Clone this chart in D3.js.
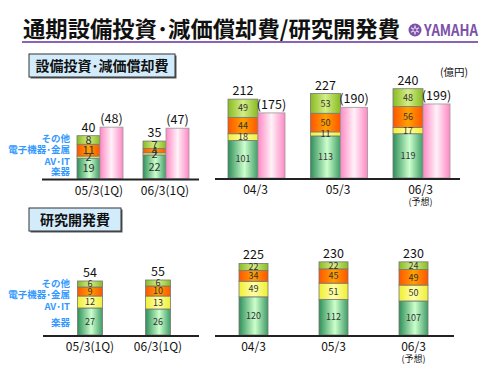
<!DOCTYPE html>
<html>
<head>
<meta charset="utf-8">
<script src="https://cdn.jsdelivr.net/npm/d3@7"></script>
<style>
  body { margin: 0; background: #fff; }
  text { font-family: "Noto Sans CJK JP", "Noto Sans", sans-serif; }
</style>
</head>
<body>
<script>
const width = 500, height = 375;

// segment order, bottom to top
const segments = ["楽器", "AV･IT", "電子機器･金属", "その他"];

// 設備投資 / 減価償却費
const capexQ = ["05/3(1Q)", "06/3(1Q)"];
const capexQVals = [[19, 2, 11, 8], [22, 2, 4, 7]];
const capexQTotal = [40, 35];
const deprQ = [48, 47];

const capexY = ["04/3", "05/3", "06/3"];
const capexYVals = [[101, 18, 44, 49], [113, 11, 50, 53], [119, 17, 56, 48]];
const capexYTotal = [212, 227, 240];
const deprY = [175, 190, 199];

// 研究開発費
const rdQ = ["05/3(1Q)", "06/3(1Q)"];
const rdQVals = [[27, 12, 9, 6], [26, 13, 10, 6]];
const rdQTotal = [54, 55];

const rdY = ["04/3", "05/3", "06/3"];
const rdYVals = [[120, 49, 34, 22], [112, 51, 45, 22], [107, 50, 49, 24]];
const rdYTotal = [225, 230, 230];

const svg = d3.select("body").append("svg")
  .attr("width", width)
  .attr("height", height);

// gradients
const defs = svg.append("defs");
function grad(id, stops) {
  const lg = defs.append("linearGradient").attr("id", id)
    .attr("x1", "0%").attr("x2", "100%").attr("y1", "0%").attr("y2", "0%");
  stops.forEach(s => lg.append("stop").attr("offset", s[0]).attr("stop-color", s[1]));
}
grad("g0", [["0%", "#2f8f5a"], ["55%", "#ccffcc"], ["100%", "#3f9c66"]]);
grad("g1", [["0%", "#eeee33"], ["50%", "#ffffaa"], ["100%", "#eeee33"]]);
grad("g2", [["0%", "#ff5500"], ["50%", "#ffa000"], ["100%", "#ff5500"]]);
grad("g3", [["0%", "#88bb22"], ["50%", "#d4ee88"], ["100%", "#88bb22"]]);
grad("gp", [["0%", "#ff88c4"], ["50%", "#fff2f8"], ["100%", "#ff88c4"]]);
const fills = ["url(#g0)", "url(#g1)", "url(#g2)", "url(#g3)"];

// title
svg.append("text")
  .attr("x", 23).attr("y", 37)
  .attr("font-size", 22).attr("font-weight", "bold")
  .attr("fill", "#111")
  .attr("textLength", 377).attr("lengthAdjust", "spacingAndGlyphs")
  .text("通期設備投資･減価償却費/研究開発費");
svg.append("line")
  .attr("x1", 22).attr("x2", 478).attr("y1", 42).attr("y2", 42)
  .attr("stroke", "#8a63b5").attr("stroke-width", 2);

// yamaha logo
const logo = svg.append("g").attr("transform", "translate(415,30)");
logo.append("circle").attr("r", 6.5).attr("fill", "#7b52a8");
d3.range(3).forEach(i => {
  logo.append("line")
    .attr("x1", 0).attr("y1", -4.5).attr("x2", 0).attr("y2", 4.5)
    .attr("transform", "rotate(" + (i * 60) + ")")
    .attr("stroke", "#e8dcf4").attr("stroke-width", 1.4);
});
logo.append("circle").attr("r", 2).attr("fill", "#7b52a8").attr("stroke", "#e8dcf4").attr("stroke-width", 0.8);
svg.append("text")
  .attr("x", 424).attr("y", 36)
  .attr("font-family", "Liberation Sans Narrow, Arial Narrow, sans-serif")
  .attr("font-size", 16).attr("font-weight", "bold")
  .attr("fill", "#7b52a8")
  .attr("textLength", 54).attr("lengthAdjust", "spacingAndGlyphs")
  .text("YAMAHA");

// section boxes
function sectionBox(x, y, w, h, label) {
  svg.append("rect").attr("x", x + 1.5).attr("y", y + 1.5).attr("width", w).attr("height", h)
    .attr("fill", "#555");
  svg.append("rect").attr("x", x).attr("y", y).attr("width", w).attr("height", h)
    .attr("fill", "#d2ecfb").attr("stroke", "#333").attr("stroke-width", 1);
  svg.append("text").attr("x", x + w / 2).attr("y", y + h / 2 + 5)
    .attr("text-anchor", "middle").attr("font-size", 14).attr("font-weight", "bold")
    .attr("fill", "#111").text(label);
}
sectionBox(29, 54, 146, 23, "設備投資･減価償却費");
sectionBox(29, 208, 92, 23, "研究開発費");

svg.append("text").attr("x", 454).attr("y", 76)
  .attr("text-anchor", "middle").attr("font-size", 10.5).attr("fill", "#111")
  .text("(億円)");

// a panel of stacked bars with optional pink bars next to them
function panel(opt) {
  const x = d3.scalePoint().domain(opt.cats).range(opt.xRange);
  const y = d3.scaleLinear().domain(opt.yDomain).range(opt.yRange);
  const g = svg.append("g");

  opt.cats.forEach((c, i) => {
    const cx = x(c);
    const bx = opt.pink ? cx - opt.bw : cx - opt.bw / 2;
    const stack = d3.stack().keys(d3.range(4))([opt.vals[i]])
      .map(s => s[0]);
    stack.forEach((s, k) => {
      g.append("rect")
        .attr("x", bx).attr("width", opt.bw)
        .attr("y", y(s[1])).attr("height", y(s[0]) - y(s[1]))
        .attr("fill", fills[k]).attr("stroke", "#777").attr("stroke-width", 0.8);
    });
    stack.forEach((s, k) => {
      g.append("text")
        .attr("x", bx + opt.bw / 2).attr("y", (y(s[0]) + y(s[1])) / 2 + opt.segFont * 0.36)
        .attr("text-anchor", "middle").attr("font-size", opt.segFont)
        .attr("font-family", "Liberation Sans, Arial, sans-serif")
        .attr("fill", "#333").text(opt.vals[i][k]);
    });
    g.append("text")
      .attr("x", bx + opt.bw / 2).attr("y", y(opt.totals[i]) - 4)
      .attr("text-anchor", "middle").attr("font-size", 12.5)
      .attr("font-family", "Liberation Sans, Arial, sans-serif")
      .attr("fill", "#111").text(opt.totals[i]);
    if (opt.pink) {
      g.append("rect")
        .attr("x", cx).attr("width", opt.pw)
        .attr("y", y(opt.pink[i])).attr("height", y(0) - y(opt.pink[i]))
        .attr("fill", "url(#gp)").attr("stroke", "#999").attr("stroke-width", 0.8);
      g.append("text")
        .attr("x", cx + opt.pw / 2).attr("y", y(opt.pink[i]) - 4)
        .attr("text-anchor", "middle").attr("font-size", 12.5)
        .attr("font-family", "Liberation Sans, Arial, sans-serif")
        .attr("fill", "#111").text("(" + opt.pink[i] + ")");
    }
    // category label
    const lx = opt.pink ? cx + (opt.pw - opt.bw) / 2 - 1 : cx;
    g.append("text")
      .attr("x", lx).attr("y", y(0) + 16)
      .attr("text-anchor", "middle").attr("font-size", 12)
      .attr("font-family", "Liberation Sans, Arial, sans-serif")
      .attr("fill", "#111").text(c);
    if (opt.forecast && c === "06/3") {
      g.append("text")
        .attr("x", lx).attr("y", y(0) + 27)
        .attr("text-anchor", "middle").attr("font-size", 9)
        .attr("fill", "#111").text("(予想)");
    }
  });

  g.append("line")
    .attr("x1", opt.axis[0]).attr("x2", opt.axis[1])
    .attr("y1", y(0) + 1).attr("y2", y(0) + 1)
    .attr("stroke", "#222").attr("stroke-width", 2);

  if (opt.legendY) {
    segments.forEach((s, k) => {
      g.append("text")
        .attr("x", 70).attr("y", opt.legendY[k] + 3.5)
        .attr("text-anchor", "end").attr("font-size", 9.5).attr("font-weight", "bold")
        .attr("fill", "#3399ff").text(s);
    });
  }
}

panel({ cats: capexQ, vals: capexQVals, totals: capexQTotal, pink: deprQ,
  xRange: [100, 166], yDomain: [0, 50], yRange: [178.5, 125], bw: 23, pw: 23,
  segFont: 11, axis: [42, 199], legendY: [171, 161, 149, 138] });
panel({ cats: capexY, vals: capexYVals, totals: capexYTotal, pink: deprY,
  xRange: [258, 423], yDomain: [0, 250], yRange: [178, 85], bw: 30, pw: 27,
  segFont: 9, axis: [215, 460], forecast: true });
panel({ cats: rdQ, vals: rdQVals, totals: rdQTotal,
  xRange: [90, 158], yDomain: [0, 60], yRange: [335, 275], bw: 25,
  segFont: 9, axis: [43, 199], legendY: [322, 306, 294, 283] });
panel({ cats: rdY, vals: rdYVals, totals: rdYTotal,
  xRange: [253.5, 413.5], yDomain: [0, 250], yRange: [335, 255.5], bw: 29,
  segFont: 9, axis: [215, 454], forecast: true });
</script>
</body>
</html>
